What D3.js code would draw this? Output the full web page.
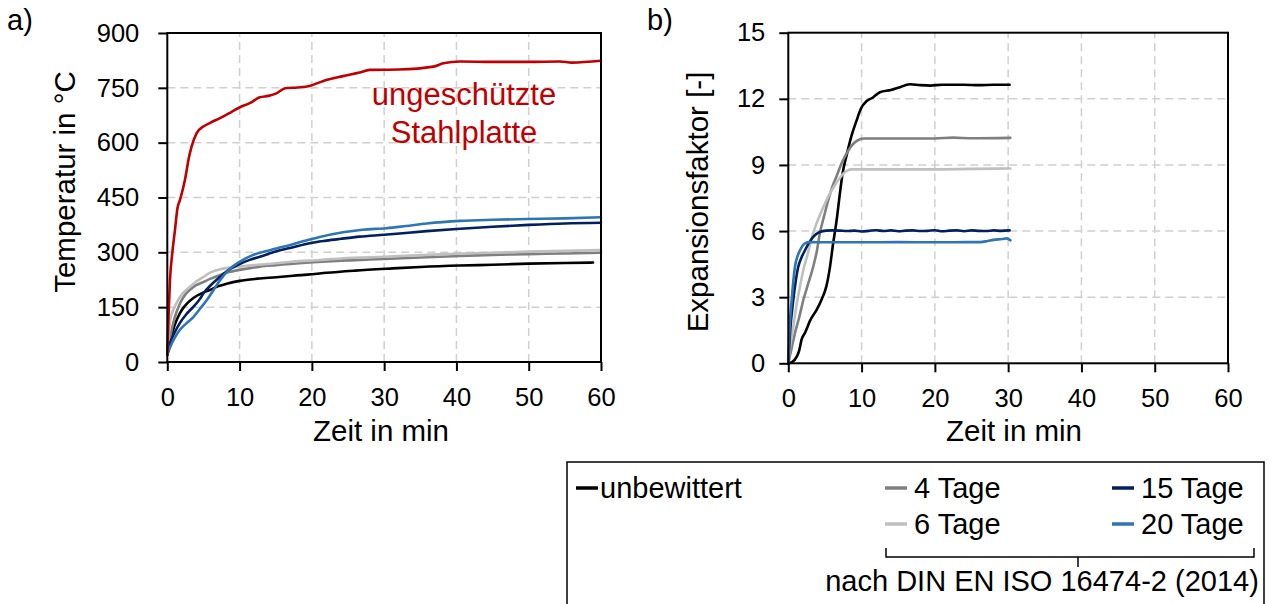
<!DOCTYPE html>
<html><head><meta charset="utf-8">
<script src="https://cdn.jsdelivr.net/npm/d3@7"></script>
<style>
body{margin:0;background:#fff;}
svg{display:block;}
text{font-family:"Liberation Sans",Arial,sans-serif;fill:#000;}
</style>
</head><body>
<svg id="c" width="1275" height="604"></svg>
<script>
// ---------- tick labels ----------
const timeTicks = [0, 10, 20, 30, 40, 50, 60];
const tempTicks = [0, 150, 300, 450, 600, 750, 900];
const expTicks = [0, 3, 6, 9, 12, 15];

// ---------- series ----------
const seriesNames = ["unbewittert", "4 Tage", "6 Tage", "15 Tage", "20 Tage"];
const seriesColors = ["#000000", "#7f7f7f", "#bfbfbf", "#002060", "#2e75b6"];

// a) Temperatur [min, °C]
const tempStahlplatte = [[0,20],[0.15,115],[0.37,224],[0.7,300],[1.06,361],[1.4,420],[1.75,443],[2.44,498],[3.0,560],[3.36,589],[4.06,626],[4.98,644],[6,655],[7.28,667],[8.5,680],[10.05,697],[11.4,708],[12.8,724],[14,728],[15.1,735],[16.3,749],[18,751],[19.7,755],[21.6,769],[24.3,782],[26.6,792],[28,799],[32,800],[36.8,808],[38.2,817],[40.5,822],[45,821],[50,821],[54.3,822],[56,819],[60,824]];
const tempUnbewittert = [[0,20],[0.4,60],[1,100],[1.75,134],[2.5,155],[3.6,175],[5,190],[5.9,197],[7,207],[8.2,214],[10,222],[12.5,228],[15.1,232],[17.4,236],[20,240],[22,244],[26,250],[31.2,256],[35,260],[40.5,264],[45,266],[50,269],[55,271],[58.9,272]];
const temp4Tage = [[0,20],[0.4,68],[1,120],[1.75,160],[2.5,185],[3.1,197],[4,210],[5,219],[6,228],[7.3,238],[8.5,246],[10,252],[12.8,261],[15,265],[19.7,272],[22,275],[28.9,281],[35,286],[40.5,290],[45,293],[50,295],[55,297],[60,299]];
const temp6Tage = [[0,20],[0.4,115],[1,150],[1.75,178],[2.5,195],[3.1,205],[4,220],[5,233],[6,245],[7.3,254],[8.5,258],[10,261],[12,265],[15,270],[17.4,275],[21.1,279],[24.3,284],[30,288],[35.9,293],[40,296],[45,299],[50,302],[55,304],[60,306]];
const temp15Tage = [[0,20],[0.4,52],[1,80],[1.75,107],[2.6,130],[3.6,151],[4.5,172],[5,188],[6,210],[7.3,233],[8.5,252],[10,268],[11.5,280],[12.8,288],[15,302],[17.4,314],[19.7,325],[22,332],[24,337],[26.6,343],[30,348],[35.9,358],[40,364],[45,370],[50,375],[55,379],[60,381]];
const temp20Tage = [[0,20],[0.4,41],[1,65],[1.75,88],[2.6,105],[3.6,123],[4.5,145],[5.5,170],[6.4,197],[7.3,224],[8.5,252],[10,274],[11.9,293],[14.2,306],[16,315],[19.7,335],[21.1,342],[24.3,355],[27,362],[30.3,366],[33,372],[35.9,379],[40.5,386],[45,389],[49.7,391],[55,393],[60,396]];

// b) Expansionsfaktor [min, -]
const expUnbewittert = [[0,0],[0.5,0.05],[1.15,0.3],[1.5,0.6],[1.8,1.06],[2.3,1.4],[3,1.96],[3.9,2.45],[4.55,2.9],[5.2,3.5],[5.7,4.4],[6.1,5.4],[6.6,6.5],[7.0,7.6],[7.4,8.6],[8.0,9.5],[8.6,10.3],[9.3,11.0],[9.9,11.55],[10.7,11.9],[11.5,12.05],[12.5,12.3],[14,12.4],[15,12.5],[16.6,12.66],[18,12.62],[19.4,12.6],[21,12.64],[23.9,12.64],[26,12.62],[28,12.64],[30.2,12.64]];
const exp4Tage = [[0,0],[0.4,0.6],[0.9,1.36],[1.5,2.1],[2.05,2.87],[2.7,3.6],[3.4,4.38],[3.9,5.1],[4.3,5.89],[4.9,6.7],[5.45,7.4],[6.0,8.0],[6.6,8.5],[7.3,9.1],[8,9.55],[8.7,9.9],[9.4,10.1],[10.3,10.2],[15,10.2],[20,10.2],[22.5,10.24],[25,10.21],[30.3,10.23]];
const exp6Tage = [[0,0],[0.3,0.9],[0.68,1.66],[1.1,2.6],[1.6,3.5],[2.1,4.3],[2.6,4.9],[3.2,5.7],[3.8,6.3],[4.8,7.1],[5.5,7.6],[6.2,8.0],[6.9,8.35],[7.5,8.6],[8.1,8.75],[8.7,8.8],[12,8.8],[20,8.8],[25,8.82],[30.3,8.84]];
const exp15Tage = [[0,0],[0.23,1.36],[0.68,2.87],[1.0,3.7],[1.36,4.38],[1.8,4.8],[2.28,5.13],[2.8,5.45],[3.4,5.74],[4.3,5.96],[5.2,6.02],[6,6.03],[7,6.02],[8,6.0],[9,6.02],[10,5.98],[11,6.01],[12,6.04],[13,6.0],[14,6.03],[15,5.99],[16,6.02],[17,6.03],[18,6.0],[19,6.01],[20,6.04],[21,5.99],[22,6.02],[23,6.03],[24,5.99],[25,6.03],[26,6.01],[27,6.0],[28,6.03],[29,6.01],[30.2,6.03]];
const exp20Tage = [[0,0],[0.14,1.36],[0.46,2.87],[0.91,4.38],[1.25,4.85],[1.6,5.13],[2.28,5.44],[2.96,5.5],[5,5.49],[10,5.49],[15,5.5],[20,5.49],[25,5.5],[26.2,5.5],[27.2,5.55],[28,5.6],[29.2,5.64],[29.8,5.67],[30.3,5.58]];

const stahlColor = "#c00000";
const stahlLabel = ["ungeschützte", "Stahlplatte"];
const legendNote = "nach DIN EN ISO 16474-2 (2014)";

// ---------- drawing ----------
const svg = d3.select("#c");

function panel(cfg) {
  const g = svg.append("g");
  const x = d3.scaleLinear().domain([0, 60]).range([cfg.x0, cfg.x1]);
  const y = d3.scaleLinear().domain(cfg.yDomain).range([cfg.y0, cfg.y1]);

  // grid
  g.append("g").selectAll("line").data(timeTicks.slice(1, -1)).join("line")
    .attr("x1", d => x(d)).attr("x2", d => x(d))
    .attr("y1", cfg.y0).attr("y2", cfg.y1)
    .attr("stroke", "#d0d0d0").attr("stroke-width", 1.5).attr("stroke-dasharray", "8,5");
  g.append("g").selectAll("line").data(cfg.yTicks.slice(1, -1)).join("line")
    .attr("x1", cfg.x0).attr("x2", cfg.x1)
    .attr("y1", d => y(d)).attr("y2", d => y(d))
    .attr("stroke", "#d0d0d0").attr("stroke-width", 1.5).attr("stroke-dasharray", "8,5");

  // lines
  const line = d3.line().x(d => x(d[0])).y(d => y(d[1])).curve(d3.curveMonotoneX);
  cfg.series.forEach(s => {
    g.append("path").datum(s.data).attr("d", line)
      .attr("fill", "none").attr("stroke", s.color).attr("stroke-width", 2.6)
      .attr("stroke-linejoin", "round").attr("stroke-linecap", "round");
  });

  // border
  g.append("rect").attr("x", cfg.x0).attr("y", cfg.y1)
    .attr("width", cfg.x1 - cfg.x0).attr("height", cfg.y0 - cfg.y1)
    .attr("fill", "none").attr("stroke", "#000").attr("stroke-width", 2);

  // axes
  const ax = g.append("g").attr("transform", `translate(0,${cfg.y0})`)
    .call(d3.axisBottom(x).tickValues(timeTicks).tickSize(9).tickPadding(17).tickSizeOuter(0));
  ax.select(".domain").remove();
  ax.selectAll("line").attr("stroke", "#000").attr("stroke-width", 2);
  ax.selectAll("text").attr("font-size", 25.5).attr("font-family", "Liberation Sans, Arial");

  const ay = g.append("g").attr("transform", `translate(${cfg.x0},0)`)
    .call(d3.axisLeft(y).tickValues(cfg.yTicks).tickSize(9).tickPadding(cfg.yPad).tickSizeOuter(0));
  ay.select(".domain").remove();
  ay.selectAll("line").attr("stroke", "#000").attr("stroke-width", 2);
  ay.selectAll("text").attr("font-size", 25.5).attr("font-family", "Liberation Sans, Arial");

  // titles
  g.append("text").attr("x", cfg.xTitleX).attr("y", 441)
    .attr("text-anchor", "middle").attr("font-size", 29.5).text("Zeit in min");
  g.append("text").attr("transform", `translate(${cfg.yTitleX},${cfg.yTitleY}) rotate(-90)`)
    .attr("text-anchor", "middle").attr("font-size", 29.5).text(cfg.yTitle);
  g.append("text").attr("x", cfg.tagX).attr("y", 30)
    .attr("font-size", 29).text(cfg.tag);
  return {x, y, g};
}

const pa = panel({
  x0: 167.3, x1: 601, y0: 362, y1: 33, yDomain: [0, 900], yTicks: tempTicks, yPad: 19,
  xTitleX: 381, yTitleX: 75, yTitleY: 182, yTitle: "Temperatur in °C", tag: "a)", tagX: 7,
  series: [
    {data: tempUnbewittert, color: seriesColors[0]},
    {data: temp4Tage, color: seriesColors[1]},
    {data: temp6Tage, color: seriesColors[2]},
    {data: temp15Tage, color: seriesColors[3]},
    {data: temp20Tage, color: seriesColors[4]},
    {data: tempStahlplatte, color: stahlColor}
  ]
});
pa.g.append("text").attr("x", 464).attr("y", 105).attr("text-anchor", "middle")
  .attr("font-size", 31).style("fill", stahlColor).text(stahlLabel[0]);
pa.g.append("text").attr("x", 464).attr("y", 143).attr("text-anchor", "middle")
  .attr("font-size", 31).style("fill", stahlColor).text(stahlLabel[1]);

panel({
  x0: 788.3, x1: 1228, y0: 363.3, y1: 32.7, yDomain: [0, 15], yTicks: expTicks, yPad: 14,
  xTitleX: 1014, yTitleX: 708, yTitleY: 202, yTitle: "Expansionsfaktor [-]", tag: "b)", tagX: 647,
  series: [
    {data: expUnbewittert, color: seriesColors[0]},
    {data: exp4Tage, color: seriesColors[1]},
    {data: exp6Tage, color: seriesColors[2]},
    {data: exp15Tage, color: seriesColors[3]},
    {data: exp20Tage, color: seriesColors[4]}
  ]
});

// ---------- legend ----------
const lg = svg.append("g");
lg.append("rect").attr("x", 567).attr("y", 462).attr("width", 697).attr("height", 160)
  .attr("fill", "none").attr("stroke", "#000").attr("stroke-width", 1.5);
const legendPos = [
  {lx: 576, tx: 600, y: 488},
  {lx: 885, tx: 914, y: 488},
  {lx: 885, tx: 914, y: 524},
  {lx: 1112, tx: 1141, y: 488},
  {lx: 1112, tx: 1141, y: 524}
];
seriesNames.forEach((n, i) => {
  const p = legendPos[i];
  lg.append("line").attr("x1", p.lx).attr("x2", p.lx + 22).attr("y1", p.y).attr("y2", p.y)
    .attr("stroke", seriesColors[i]).attr("stroke-width", 3.5);
  lg.append("text").attr("x", p.tx).attr("y", p.y + 10).attr("font-size", 29).text(n);
});
lg.append("path").attr("d", "M886,548V557H1254V548M1078,557V567")
  .attr("fill", "none").attr("stroke", "#000").attr("stroke-width", 1.5);
lg.append("text").attr("x", 1042).attr("y", 591).attr("text-anchor", "middle")
  .attr("font-size", 29).text(legendNote);
</script>
</body></html>
